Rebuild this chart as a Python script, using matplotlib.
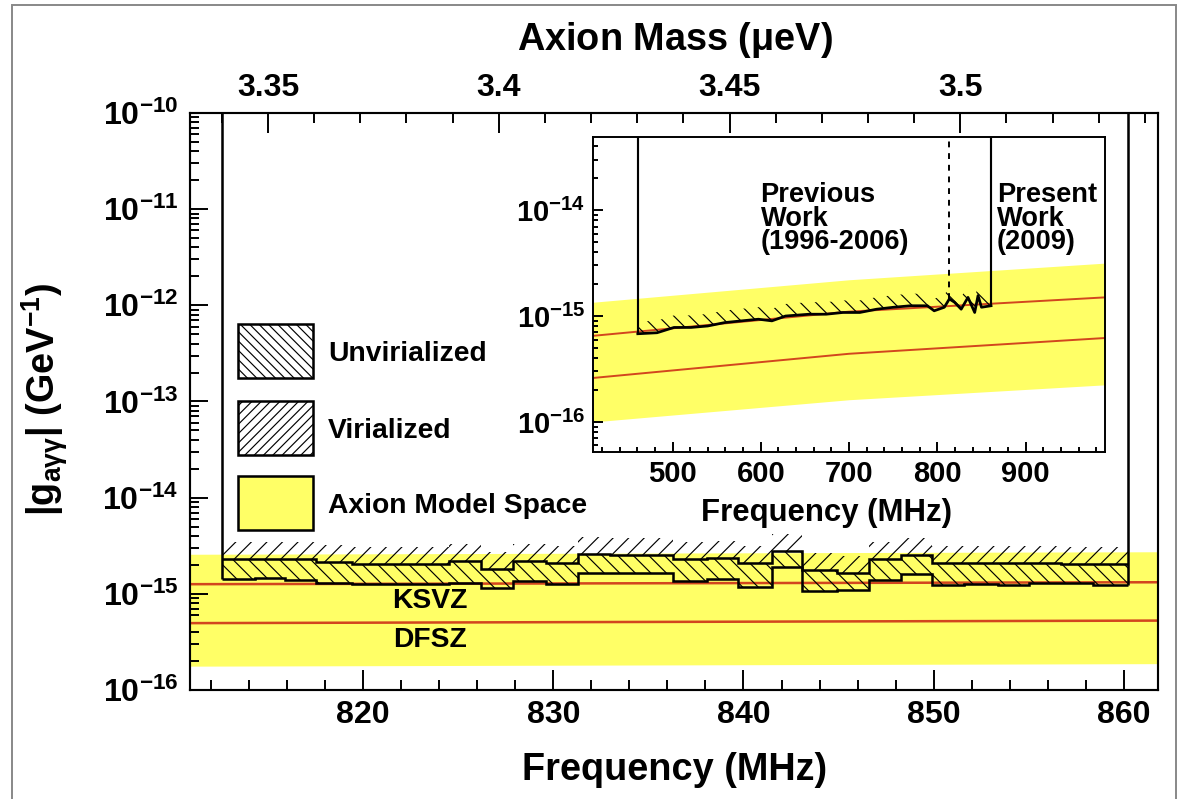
import numpy as np
import matplotlib
matplotlib.use('Agg')
import matplotlib.pyplot as plt
from matplotlib.patches import Rectangle
from matplotlib.ticker import MultipleLocator,LogLocator,NullFormatter

# ---- main panel (present work, MHz / GeV^-1)
freqLim=[810.9,861.8]
gLim=[1e-16,1e-10]
freqTicks=[820,830,840,850,860]
decades=[-16,-15,-14,-13,-12,-11,-10]
binEdges=[812.6,814.3,815.9,817.5,819.4,824.5,826.2,827.9,829.6,831.3,833.0,836.3,838.1,
	839.7,841.5,843.1,844.9,846.6,848.3,849.9,851.6,853.4,855.0,856.7,858.4,860.2]
virLimit=np.array([2.28,2.28,2.28,2.13,2.03,2.19,1.81,2.21,2.08,2.59,2.53,2.28,2.34,
	2.08,2.81,1.77,1.64,2.28,2.53,2.08,2.11,2.11,2.11,2.03,2.03])*1e-15
unvirLimit=np.array([1.43,1.46,1.39,1.31,1.28,1.29,1.15,1.37,1.26,1.635,1.635,1.37,1.43,
	1.19,1.89,1.08,1.10,1.39,1.59,1.23,1.26,1.23,1.285,1.285,1.23])*1e-15
bandF=[810.9,861.8]
bandTop=[2.58e-15,2.74e-15]
bandBot=[1.77e-16,1.88e-16]
ksvz=[1.26e-15,1.32e-15]
dfsz=[4.96e-16,5.27e-16]
# top axis: axion mass (ueV) anchored on two read tick positions
massAnchorF=[815.0,851.4]
massAnchorM=[3.35,3.50]
massTicks=[3.35,3.4,3.45,3.5]
massLabels=['3.35','3.4','3.45','3.5']

# ---- inset (previous + present work)
insLim=[410,990]
insGLim=[5.2e-17,4.9e-14]
insTicks=[500,600,700,800,900]
insDecades=[-16,-15,-14]
insBandF=[410,700,990]
insBandTop=[1.35e-15,2.2e-15,3.16e-15]
insBandBot=[1.0e-16,1.62e-16,2.24e-16]
insKsvz=[6.5e-16,1.1e-15,1.5e-15]
insDfsz=[2.6e-16,4.4e-16,6.2e-16]
insF=[460.7,482.5,501.7,520.9,539.9,559.1,578.2,597.3,612.6,628.0,654.8,674.0,693.0,712.2,
	731.3,750.4,769.6,788.7,796.4,807.9,813.6,819.4,827.0,834.7,842.3,846.1,850.0,860.8]
insG=np.array([0.68,0.695,0.78,0.78,0.805,0.867,0.90,0.933,0.90,1.0,1.04,1.04,1.08,1.08,
	1.16,1.21,1.25,1.25,1.12,1.21,1.45,1.35,1.16,1.5,1.08,1.56,1.21,1.25])*1e-15
prevEnd=813.6

yellow='#ffff66'
red='#d2461e'
virBand=1.5   # height of the hatch strip drawn above a limit (factor)
insBand=1.3

plt.rcParams['font.family']=['Liberation Sans','DejaVu Sans']
plt.rcParams['font.weight']='bold'
plt.rcParams['mathtext.fontset']='custom'
plt.rcParams['mathtext.bf']='Liberation Sans:bold'
plt.rcParams['mathtext.rm']='Liberation Sans:bold'
plt.rcParams['mathtext.it']='Liberation Sans:bold'
plt.rcParams['mathtext.default']='bf'
plt.rcParams['hatch.color']='black'
plt.rcParams['hatch.linewidth']=0.6

fig=plt.figure(figsize=(1188/140,799/140),dpi=140)
ax=fig.add_axes([0.16,0.1364,0.8148,0.7222])
ax.set_xlim(freqLim)
ax.set_yscale('log')
ax.set_ylim(gLim)

ax.fill_between(bandF,bandBot,bandTop,color=yellow,lw=0,zorder=1)
ax.plot(bandF,ksvz,color=red,lw=1.3,zorder=2)
ax.plot(bandF,dfsz,color=red,lw=1.3,zorder=2)

vStep=np.append(virLimit,virLimit[-1])
uStep=np.append(unvirLimit,unvirLimit[-1])
ax.fill_between(binEdges,uStep,vStep,step='post',facecolor='none',edgecolor='k',hatch='\\\\\\',lw=0,zorder=3)
ax.fill_between(binEdges,vStep,vStep*virBand,step='post',facecolor='none',edgecolor='k',hatch='///',lw=0,zorder=3)
ax.stairs(virLimit,binEdges,baseline=None,color='k',lw=1.3,zorder=4)
ax.stairs(unvirLimit,binEdges,baseline=None,color='k',lw=1.3,zorder=4)
ax.vlines([binEdges[0],binEdges[-1]],[unvirLimit[0],unvirLimit[-1]],gLim[1],color='k',lw=1.3,zorder=4)

ax.text(823.5,8.4e-16,'KSVZ',fontsize=14.5,ha='center',va='center',zorder=5)
ax.text(823.5,3.35e-16,'DFSZ',fontsize=14.5,ha='center',va='center',zorder=5)

ax.set_xticks(freqTicks,[str(v) for v in freqTicks])
ax.xaxis.set_minor_locator(MultipleLocator(2))
ax.set_yticks([10.0**d for d in decades],[r'$10^{%d}$'%d for d in decades])
ax.yaxis.set_minor_locator(LogLocator(subs=np.arange(2,10)))
ax.yaxis.set_minor_formatter(NullFormatter())
ax.tick_params(axis='x',which='major',direction='in',length=10.3,width=1,labelsize=16.5,pad=5)
ax.tick_params(axis='x',which='minor',direction='in',length=5.1,width=1)
ax.tick_params(axis='y',which='major',direction='in',length=9,width=1,labelsize=16.5,pad=6)
ax.tick_params(axis='y',which='minor',direction='in',length=4.5,width=1)
for s in ax.spines.values():
	s.set_linewidth(1.1)

slope=(massAnchorM[1]-massAnchorM[0])/(massAnchorF[1]-massAnchorF[0])
f2m=lambda f: massAnchorM[0]+(np.asarray(f)-massAnchorF[0])*slope
m2f=lambda m: massAnchorF[0]+(np.asarray(m)-massAnchorM[0])/slope
top=ax.secondary_xaxis('top',functions=(f2m,m2f))
top.set_xticks(massTicks,massLabels)
top.xaxis.set_minor_locator(MultipleLocator(0.01))
top.tick_params(axis='x',which='major',direction='in',length=10.3,width=1,labelsize=16.5,pad=5)
top.tick_params(axis='x',which='minor',direction='in',length=5.1,width=1)

# legend drawn by hand
legBoxes=[(0.5407,'\\\\\\\\\\','white','Unvirialized'),(0.4073,'/////','white','Virialized'),(0.2773,None,yellow,'Axion Model Space')]
for y0,h,fc,lab in legBoxes:
	ax.add_patch(Rectangle((0.0496,y0),0.0775,0.094,transform=ax.transAxes,facecolor=fc,edgecolor='k',
		hatch=h,lw=1.3,zorder=6))
	ax.text(0.1426,y0+0.042,lab,transform=ax.transAxes,fontsize=14.5,va='center',ha='left',zorder=6)

fig.text(0.568,0.95,r'Axion Mass ($\mu$eV)',fontsize=19.5,ha='center',va='center')
fig.text(0.568,0.036,'Frequency (MHz)',fontsize=19.5,ha='center',va='center')
fig.text(0.038,0.5,r'$|g_{a\gamma\gamma}|$ (GeV$^{-1}$)',fontsize=19.5,ha='center',va='center',rotation=90)

# ---- inset
ins=fig.add_axes([0.4992,0.4343,0.431,0.3942],zorder=5)
ins.set_facecolor('white')
ins.set_xlim(insLim)
ins.set_yscale('log')
ins.set_ylim(insGLim)
ins.fill_between(insBandF,insBandBot,insBandTop,color=yellow,lw=0,zorder=1)
ins.plot(insBandF,insKsvz,color=red,lw=1.0,zorder=2)
ins.plot(insBandF,insDfsz,color=red,lw=1.0,zorder=2)
ins.fill_between(insF,insG,insG*insBand,facecolor='none',edgecolor='k',hatch='\\\\\\',lw=0,zorder=3)
ins.plot(insF,insG,color='k',lw=1.4,zorder=4)
ins.vlines([insF[0],insF[-1]],[insG[0],insG[-1]],insGLim[1],color='k',lw=1.1,zorder=4)
ins.vlines(prevEnd,insG[insF.index(prevEnd)],insGLim[1],color='k',lw=1.0,linestyles=(0,(3,3)),zorder=4)
ins.set_xticks(insTicks,[str(v) for v in insTicks])
ins.xaxis.set_minor_locator(MultipleLocator(20))
ins.set_yticks([10.0**d for d in insDecades],[r'$10^{%d}$'%d for d in insDecades])
ins.yaxis.set_minor_locator(LogLocator(subs=np.arange(2,10)))
ins.yaxis.set_minor_formatter(NullFormatter())
ins.tick_params(which='major',direction='in',length=5,width=1,labelsize=15,pad=4)
ins.tick_params(which='minor',direction='in',length=2.6,width=1)
for s in ins.spines.values():
	s.set_linewidth(1.0)
ins.text(0.327,0.741,'Previous\nWork\n(1996-2006)',transform=ins.transAxes,fontsize=14,
	va='center',ha='left',linespacing=0.86)
ins.text(0.789,0.741,'Present\nWork\n(2009)',transform=ins.transAxes,fontsize=14,
	va='center',ha='left',linespacing=0.86)
fig.text(0.696,0.358,'Frequency (MHz)',fontsize=16,ha='center',va='center')

fig.patches.append(Rectangle((12/1188,-0.01),1164/1188,1.0-5/799+0.01,transform=fig.transFigure,
	fill=False,edgecolor='#888888',lw=1.0))
fig.savefig('out.png',dpi=140)
